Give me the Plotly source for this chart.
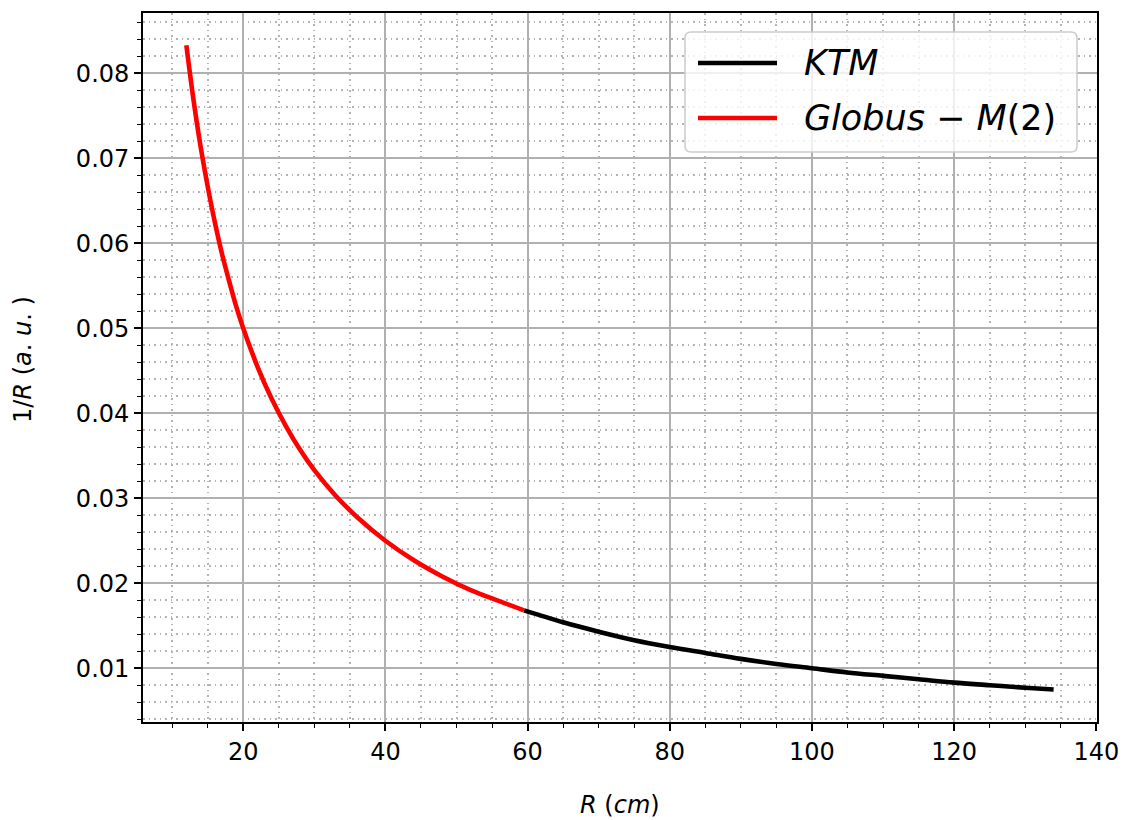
import plotly.graph_objects as go

# Globus-M(2) segment (red)
r_globus = [12, 13, 14, 15, 16, 17, 18, 19, 20, 22, 24, 26, 28, 30, 33, 36, 40, 44, 48, 52, 56, 59.5]
y_globus = [0.0833, 0.0769, 0.0714, 0.0667, 0.0625, 0.0588, 0.0556, 0.0526, 0.0500, 0.0455,
            0.0417, 0.0385, 0.0357, 0.0333, 0.0303, 0.0278, 0.0250, 0.0227, 0.0208, 0.0192,
            0.0179, 0.0168]
# KTM segment (black)
r_ktm = [59.5, 65, 70, 75, 80, 85, 90, 95, 100, 105, 110, 115, 120, 125, 130, 134]
y_ktm = [0.0168, 0.0154, 0.0143, 0.0133, 0.0125, 0.0118, 0.0111, 0.0105, 0.0100, 0.0095,
         0.0091, 0.0087, 0.0083, 0.0080, 0.0077, 0.0075]

legend_labels = ["<i>KTM</i>", "<i>Globus</i> − <i>M</i>(2)"]
legend_colors = ["black", "red"]

FONT = "DejaVu Sans"

fig = go.Figure()
fig.add_trace(go.Scatter(x=r_ktm, y=y_ktm, mode="lines", name="KTM",
                         line=dict(color="black", width=4.6, shape="spline"), showlegend=False))
fig.add_trace(go.Scatter(x=r_globus, y=y_globus, mode="lines", name="Globus-M(2)",
                         line=dict(color="red", width=4.6, shape="spline"), showlegend=False))

grid_col = "#b0b0b0"
minor_col = "#b3b3b3"
minor_dash = "1.7px,3.8px"
fig.update_xaxes(range=[5.9, 140.1], tick0=0, dtick=20, ticks="outside", ticklen=7, tickwidth=1.8,
                 tickcolor="black", showline=True, linecolor="black", linewidth=1.8, mirror=True,
                 showgrid=True, gridcolor=grid_col, gridwidth=1.8, zeroline=False,
                 tickfont=dict(family=FONT, size=24, color="black"),
                 minor=dict(tick0=0, dtick=5, ticks="outside", ticklen=4, tickwidth=1.4, tickcolor="black",
                            showgrid=True, gridcolor=minor_col, gridwidth=1.5, griddash=minor_dash))
fig.update_yaxes(range=[0.00367, 0.0871], tick0=0, dtick=0.01, tickformat=".2f", ticks="outside",
                 ticklen=7, tickwidth=1.8, tickcolor="black", showline=True, linecolor="black",
                 linewidth=1.8, mirror=True, showgrid=True, gridcolor=grid_col, gridwidth=1.8,
                 zeroline=False, tickfont=dict(family=FONT, size=24, color="black"),
                 minor=dict(tick0=0, dtick=0.002, ticks="outside", ticklen=4, tickwidth=1.4,
                            tickcolor="black", showgrid=True, gridcolor=minor_col, gridwidth=1.5,
                            griddash=minor_dash))

shapes = []
annotations = []
W, H = 1130, 820
L, R_, T, B = 143, 1097, 13, 722
def px(xp):
    return (xp - L) / (R_ - L)
def py(yp):
    return 1 - (yp - T) / (B - T)
x0, x1, y0, y1 = 685, 1077, 32, 152
rad = 6
path = (f"M {px(x0+rad)},{py(y0)} L {px(x1-rad)},{py(y0)} Q {px(x1)},{py(y0)} {px(x1)},{py(y0+rad)} "
        f"L {px(x1)},{py(y1-rad)} Q {px(x1)},{py(y1)} {px(x1-rad)},{py(y1)} "
        f"L {px(x0+rad)},{py(y1)} Q {px(x0)},{py(y1)} {px(x0)},{py(y1-rad)} "
        f"L {px(x0)},{py(y0+rad)} Q {px(x0)},{py(y0)} {px(x0+rad)},{py(y0)} Z")
shapes.append(dict(type="path", xref="paper", yref="paper", path=path,
                   fillcolor="rgba(255,255,255,0.8)", line=dict(color="#cccccc", width=1.5)))
for i, (lab, col) in enumerate(zip(legend_labels, legend_colors)):
    yc = 63 + i * 55
    shapes.append(dict(type="line", xref="paper", yref="paper", x0=px(698), x1=px(777),
                       y0=py(yc), y1=py(yc), line=dict(color=col, width=4.5)))
    annotations.append(dict(xref="paper", yref="paper", x=px(802), y=py(yc), text=lab,
                            showarrow=False, xanchor="left", yanchor="middle",
                            font=dict(family=FONT, size=35, color="black")))

annotations.append(dict(xref="paper", yref="paper", x=px(620), y=py(805),
                        text="<i>R</i> (<i>cm</i>)", showarrow=False, xanchor="center",
                        yanchor="middle", font=dict(family=FONT, size=24, color="black")))
annotations.append(dict(xref="paper", yref="paper", x=px(23), y=py(360),
                        text="1/<i>R</i> (<i>a</i>. <i>u</i>. )", showarrow=False, textangle=-90,
                        xanchor="center", yanchor="middle",
                        font=dict(family=FONT, size=24, color="black")))

fig.update_layout(width=W, height=H, margin=dict(l=L, r=W - R_, t=T, b=H - B),
                  plot_bgcolor="white", paper_bgcolor="white", shapes=shapes,
                  annotations=annotations, showlegend=False, font=dict(family=FONT))
fig.write_html("out.html")
